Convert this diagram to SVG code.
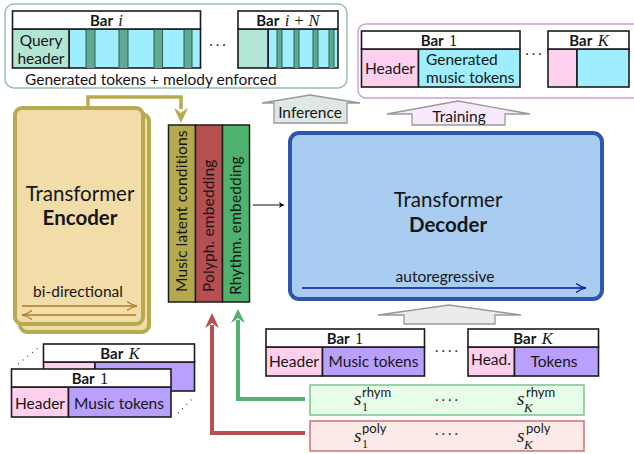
<svg xmlns="http://www.w3.org/2000/svg" width="634" height="454" viewBox="0 0 634 454">
<style>
text{font-family:Lato,"Open Sans","Liberation Sans",sans-serif;fill:#161616;font-size:15.500px}
.m{text-anchor:middle}
.h{font-weight:700;font-size:15px}
.i{font-family:"Liberation Serif",serif;font-style:italic;font-weight:400;font-size:16.500px}
.r{font-family:"Liberation Serif",serif;font-weight:400;font-size:16.500px}
.sup{font-size:13px}
.sb{font-family:"Liberation Serif",serif;font-size:12px}
.sbi{font-family:"Liberation Serif",serif;font-style:italic;font-size:13px}
.si{font-family:"Liberation Serif",serif;font-style:italic;font-size:19px}
.big{font-size:20.500px}
.bigb{font-size:20.500px;font-weight:700}
.c{stroke:#1c1c1c;stroke-width:1.600}
.w{fill:#fff}.p{fill:#ffd0ee}.v{fill:#b9a0ff}.y{fill:#9eeeff}.q{fill:#b2e5d5}.d{fill:#5fa995}
.dots{font-size:15px;fill:#333;letter-spacing:3px}
.rot{letter-spacing:.15px}
.ln{fill:none;stroke-linejoin:miter}
</style>
<defs>
<marker id="oa" markerWidth="12" markerHeight="12" refX="10" refY="5" orient="auto" markerUnits="userSpaceOnUse"><path d="M0,0.500 Q5,4 10,5 Q5,6 0,9.500" fill="none" stroke="#b0782a" stroke-width="1.100"/></marker>
<marker id="ba" markerWidth="12" markerHeight="12" refX="10" refY="5" orient="auto" markerUnits="userSpaceOnUse"><path d="M0,0.500 Q5,4 10,5 Q5,6 0,9.500" fill="none" stroke="#0d0da8" stroke-width="1.100"/></marker>
<marker id="ka" markerWidth="6" markerHeight="6" refX="5" refY="3" orient="auto" markerUnits="userSpaceOnUse"><path d="M0,0 L5,3 L0,6 L1.200,3z" fill="#111"/></marker>
</defs>

<g id="generated-group">
<rect x="5" y="4" width="342" height="84" rx="9" fill="#fff" stroke="#93bfae" stroke-width="1.400"/>
<rect class="y c" x="69" y="29" width="131.500" height="39"/>
<g class="d"><rect x="86" y="29" width="9" height="39"/><rect x="119" y="29" width="9" height="39"/><rect x="154" y="29" width="8.500" height="39"/><rect x="184" y="29" width="8" height="39"/></g>
<path d="M86 29V68M95 29V68M119 29V68M128 29V68M154 29V68M162.500 29V68M184 29V68M192 29V68" stroke="#2e5f52" stroke-width="1"/>
<rect class="q c" x="12.500" y="29" width="56.500" height="39"/>
<rect class="w c" x="12.500" y="11" width="188" height="18"/>
<text class="m h" x="106.500" y="25.500">Bar <tspan class="i" dx="2">i</tspan></text>
<text class="m" x="41" y="46">Query</text><text class="m" x="41" y="64">header</text>
<text class="dots m" x="219" y="46">...</text>
<rect class="y c" x="268" y="29" width="70" height="39"/>
<g class="d"><rect x="277" y="29" width="5" height="39"/><rect x="294" y="29" width="5" height="39"/><rect x="313" y="29" width="5" height="39"/><rect x="329" y="29" width="5" height="39"/></g>
<path d="M277 29V68M282 29V68M294 29V68M299 29V68M313 29V68M318 29V68M329 29V68M334 29V68" stroke="#2e5f52" stroke-width="1"/>
<rect class="q c" x="238" y="29" width="30" height="39"/>
<rect class="w c" x="238" y="11" width="100" height="18"/>
<text class="m h" x="288" y="25.500">Bar <tspan class="i" dx="2">i + N</tspan></text>
<text x="25" y="85">Generated tokens + melody enforced</text>
</g>

<g id="training-group">
<rect x="358" y="24" width="290" height="74" rx="8" fill="#fff" stroke="#c9a0dc" stroke-width="1.400"/>
<rect class="p c" x="361.500" y="49" width="57" height="38"/>
<rect class="y c" x="418.500" y="49" width="101.500" height="38"/>
<rect class="w c" x="361.500" y="31" width="158.500" height="18"/>
<text class="m h" x="439" y="45.500">Bar <tspan class="r" dx="2">1</tspan></text>
<text class="m" x="390" y="74">Header</text>
<text x="426" y="65">Generated</text><text x="426" y="83">music tokens</text>
<text class="dots m" x="535" y="55">...</text>
<rect class="p c" x="548" y="49" width="29" height="38"/>
<rect class="y c" x="577" y="49" width="52" height="38"/>
<rect class="w c" x="548" y="31" width="81" height="18"/>
<text class="m h" x="589" y="45.500">Bar <tspan class="i" dx="2">K</tspan></text>
</g>

<g id="inference-arrow">
<path d="M262 103L310 95L360 103H347V123H274V103Z" fill="#dfe8e4" stroke="#999" stroke-width="1.300"/>
<text class="m" x="310" y="118">Inference</text>
</g>
<g id="training-arrow">
<path d="M387 114L458 101L530 114H505V125H412V114Z" fill="#f8e8fc" stroke="#999" stroke-width="1.300"/>
<text class="m" x="459" y="122">Training</text>
</g>
<g id="tokens-arrow">
<path d="M378 315L449 305L521 315H495V324H404V315Z" fill="#ebebeb" stroke="#999" stroke-width="1.300"/>
</g>

<g id="encoder">
<rect x="20" y="114" width="129" height="218" rx="7" fill="#f2dca8" stroke="#b7ab52" stroke-width="4"/>
<rect x="15" y="108" width="128" height="216" rx="7" fill="#f2dca8" stroke="#b7ab52" stroke-width="4"/>
<text class="m big" x="80" y="201">Transformer</text>
<text class="m bigb" x="80" y="225">Encoder</text>
<text class="m" x="78" y="297">bi-directional</text>
<line x1="22" y1="306" x2="137" y2="306" stroke="#b0782a" stroke-width="1.300" marker-end="url(#oa)"/>
<line x1="136" y1="315" x2="22" y2="315" stroke="#b0782a" stroke-width="1.300" marker-end="url(#oa)"/>
</g>

<g id="embeddings">
<rect x="168.500" y="125" width="27" height="177" fill="#b5a94f" stroke="#1c1c1c" stroke-width="1.500"/>
<rect x="195.500" y="125" width="27" height="177" fill="#b54f50" stroke="#1c1c1c" stroke-width="1.500"/>
<rect x="222.500" y="125" width="27" height="177" fill="#4fb26e" stroke="#1c1c1c" stroke-width="1.500"/>
<text class="rot" transform="translate(187 292) rotate(-90)">Music latent conditions</text>
<text class="rot" transform="translate(214 292) rotate(-90)">Polyph. embedding</text>
<text class="rot" transform="translate(241 295) rotate(-90)">Rhythm. embedding</text>
</g>

<g id="decoder">
<rect x="290" y="133" width="312" height="166" rx="9" fill="#a9cdf1" stroke="#2f55ac" stroke-width="4"/>
<text class="m big" x="448" y="207">Transformer</text>
<text class="m bigb" x="448" y="232">Decoder</text>
<text class="m" x="445" y="282">autoregressive</text>
<line x1="302" y1="288" x2="586" y2="288" stroke="#0d0da8" stroke-width="1.300" marker-end="url(#ba)"/>
</g>

<g id="connectors">
<path class="ln" d="M88 106V97H181V109" stroke="#b7ab52" stroke-width="3.500"/>
<path d="M174 108Q179 111 181 113Q183 111 188 108L181 123Z" fill="#b7ab52"/>
<line x1="253" y1="205" x2="284" y2="205" stroke="#111" stroke-width="1" marker-end="url(#ka)"/>
<path class="ln" d="M305 433H212V325" stroke="#b54f50" stroke-width="4"/>
<path d="M205 328L212 313L219 328Q214 325 212 323Q210 325 205 328Z" fill="#b54f50"/>
<path class="ln" d="M305 399H238V320" stroke="#4fb26e" stroke-width="4"/>
<path d="M231 323L238 309L245 323Q240 320 238 318Q236 320 231 323Z" fill="#4fb26e"/>
</g>

<g id="tokens-bar-1">
<rect class="p c" x="266" y="347" width="56.500" height="29"/>
<rect class="v c" x="322.500" y="347" width="102" height="29"/>
<rect class="w c" x="266" y="329" width="158.500" height="18"/>
<text class="m h" x="345" y="344">Bar <tspan class="r" dx="2">1</tspan></text>
<text class="m" x="294" y="367">Header</text>
<text class="m" x="373.500" y="367">Music tokens</text>
</g>
<text class="dots m" x="448" y="352">....</text>
<g id="tokens-bar-k">
<rect class="p c" x="468" y="347" width="46.500" height="29"/>
<rect class="v c" x="514.500" y="347" width="84" height="29"/>
<rect class="w c" x="468" y="329" width="130.500" height="18"/>
<text class="m h" x="533" y="344">Bar <tspan class="i" dx="2">K</tspan></text>
<text class="m" x="491" y="365">Head.</text>
<text class="m" x="554" y="367">Tokens</text>
</g>

<g id="rhythm-seq">
<rect x="310" y="385" width="274" height="30" fill="#e6fde8" stroke="#6fbf85" stroke-width="1.400"/>
<text class="si" x="354" y="405">s</text><text class="sup" x="362" y="396.500">rhym</text><text class="sb" x="362" y="411">1</text>
<text class="dots m" x="448" y="401">....</text>
<text class="si" x="517" y="405">s</text><text class="sup" x="526" y="396.500">rhym</text><text class="sbi" x="524" y="412">K</text>
</g>
<g id="poly-seq">
<rect x="310" y="421" width="274" height="30" fill="#fde9e7" stroke="#c46a6a" stroke-width="1.400"/>
<text class="si" x="354" y="442">s</text><text class="sup" x="362" y="433">poly</text><text class="sb" x="362" y="448">1</text>
<text class="dots m" x="448" y="435">....</text>
<text class="si" x="517" y="442">s</text><text class="sup" x="526" y="433">poly</text><text class="sbi" x="524" y="449">K</text>
</g>

<g id="input-bar-k">
<rect class="p c" x="43.500" y="362" width="51.500" height="29"/>
<rect class="v c" x="95" y="362" width="99.500" height="29"/>
<rect class="w c" x="43.500" y="344" width="151" height="18"/>
<text class="m h" x="120" y="359">Bar <tspan class="i" dx="2">K</tspan></text>
</g>
<g id="input-bar-1">
<rect class="p c" x="11.500" y="387" width="57" height="30"/>
<rect class="v c" x="68.500" y="387" width="102.500" height="30"/>
<rect class="w c" x="11.500" y="369" width="159.500" height="18"/>
<text class="m h" x="90" y="384">Bar <tspan class="r" dx="2">1</tspan></text>
<text class="m" x="40" y="409">Header</text>
<text class="m" x="119" y="409">Music tokens</text>
</g>
<path d="M18 364L38 348M178 413L192 399" stroke="#333" stroke-width="1.200" stroke-dasharray="1 5" fill="none"/>
</svg>
